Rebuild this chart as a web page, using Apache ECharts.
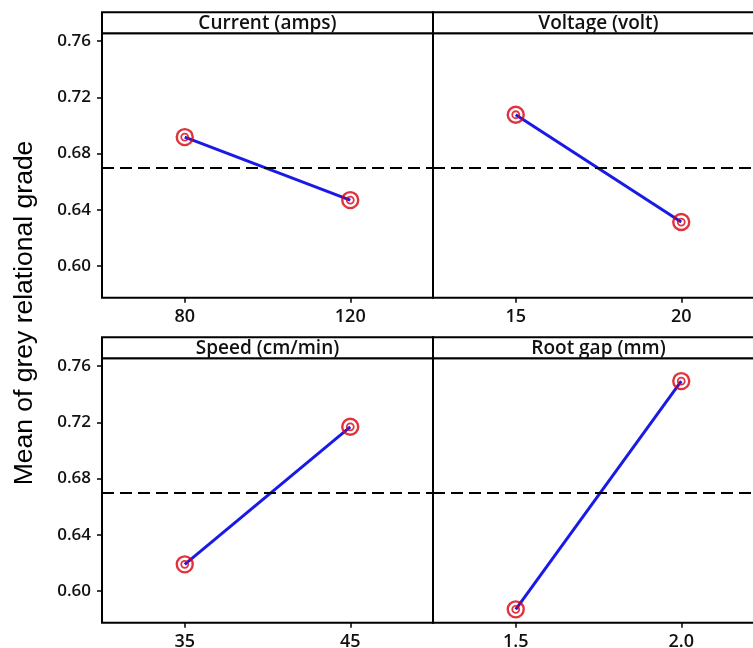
<!DOCTYPE html>
<html>
<head>
<meta charset="utf-8">
<script src="https://cdn.jsdelivr.net/npm/echarts@6/dist/echarts.min.js"></script>
<style>
html,body{margin:0;padding:0;background:#fff;}
#chart{width:753px;height:648px;}
</style>
</head>
<body>
<div id="chart"></div>
<script>
// ---- data ----
const factorNames = ['Current (amps)', 'Voltage (volt)', 'Speed (cm/min)', 'Root gap (mm)'];
const currentLevels = ['80', '120'];
const currentMeans = [0.6917, 0.6469];
const voltageLevels = ['15', '20'];
const voltageMeans = [0.7076, 0.6313];
const speedLevels = ['35', '45'];
const speedMeans = [0.6190, 0.7168];
const rootGapLevels = ['1.5', '2.0'];
const rootGapMeans = [0.5870, 0.7493];
const grandMean = 0.6688;
const yTickValues = [0.60, 0.64, 0.68, 0.72, 0.76];
const yAxisTitle = 'Mean of grey relational grade';

// ---- layout ----
const levels = [currentLevels, voltageLevels, speedLevels, rootGapLevels];
const means = [currentMeans, voltageMeans, speedMeans, rootGapMeans];
const panelW = 331, plotH = 264.4, headerH = 21;
const lefts = [102, 433, 102, 433];
const frameTops = [12.3, 12.3, 337.3, 337.3];
const FONT = '"Open Sans", "DejaVu Sans", sans-serif';

const grids = [], xAxes = [], yAxes = [], series = [], graphics = [];
for (let i = 0; i < 4; i++) {
  const isLeft = (i % 2 === 0);
  grids.push({
    left: lefts[i], top: frameTops[i] + headerH, width: panelW, height: plotH,
    containLabel: false, outerBoundsMode: 'none',
    show: true, borderColor: '#000', borderWidth: 2, backgroundColor: 'transparent'
  });
  xAxes.push({
    gridIndex: i, type: 'category', data: levels[i], boundaryGap: true,
    axisLine: { show: false },
    axisTick: { show: true, alignWithLabel: true, length: 5, lineStyle: { color: '#000', width: 1.5 } },
    axisLabel: { color: '#111', fontFamily: FONT, fontSize: 18, fontWeight: 600, margin: 10 },
    splitLine: { show: false }
  });
  yAxes.push({
    gridIndex: i, type: 'value', min: 0.5775, max: 0.7655,
    axisLine: { show: false },
    axisTick: { show: isLeft, length: 5, customValues: yTickValues, lineStyle: { color: '#000', width: 1.5 } },
    axisLabel: {
      show: isLeft, customValues: yTickValues, color: '#111', fontFamily: FONT,
      fontSize: 17, fontWeight: 600, margin: 11,
      formatter: v => Number(v).toFixed(2)
    },
    splitLine: { show: false }
  });
  series.push({
    type: 'line', xAxisIndex: i, yAxisIndex: i, data: means[i],
    showSymbol: false, lineStyle: { color: '#1a1ae6', width: 3 }, z: 3,
    markLine: {
      silent: true, symbol: ['none', 'none'],
      label: { show: false },
      lineStyle: { color: '#000', type: [12, 6], width: 2 },
      data: [{ yAxis: grandMean }], animation: false
    }
  });
  series.push({
    type: 'scatter', xAxisIndex: i, yAxisIndex: i, data: means[i],
    symbol: 'circle', symbolSize: 16, z: 4,
    itemStyle: { color: 'transparent', borderColor: '#d9000e', borderWidth: 2.4 }
  });
  series.push({
    type: 'scatter', xAxisIndex: i, yAxisIndex: i, data: means[i],
    symbol: 'circle', symbolSize: 7, z: 5,
    itemStyle: { color: 'transparent', borderColor: '#d9000e', borderWidth: 1.8 }
  });
  graphics.push({
    type: 'rect', shape: { x: lefts[i], y: frameTops[i], width: panelW, height: headerH },
    style: { fill: '#fff', stroke: '#000', lineWidth: 2 }, z: 10
  });
  graphics.push({
    type: 'text', x: lefts[i] + panelW / 2, y: frameTops[i] + headerH / 2 + 0.5, z: 11,
    style: {
      text: factorNames[i], fill: '#111', align: 'center', verticalAlign: 'middle',
      font: '600 19px ' + FONT
    }
  });
}
graphics.push({
  type: 'text', x: 25, y: 313, rotation: Math.PI / 2, z: 11,
  style: {
    text: yAxisTitle, fill: '#000', align: 'center', verticalAlign: 'middle',
    font: '26.5px "Liberation Sans", Arial, sans-serif'
  }
});

const chart = echarts.init(document.getElementById('chart'), null, { renderer: 'canvas' });
chart.setOption({
  animation: false,
  backgroundColor: '#fff',
  grid: grids, xAxis: xAxes, yAxis: yAxes, series: series, graphic: graphics
});
</script>
</body>
</html>
